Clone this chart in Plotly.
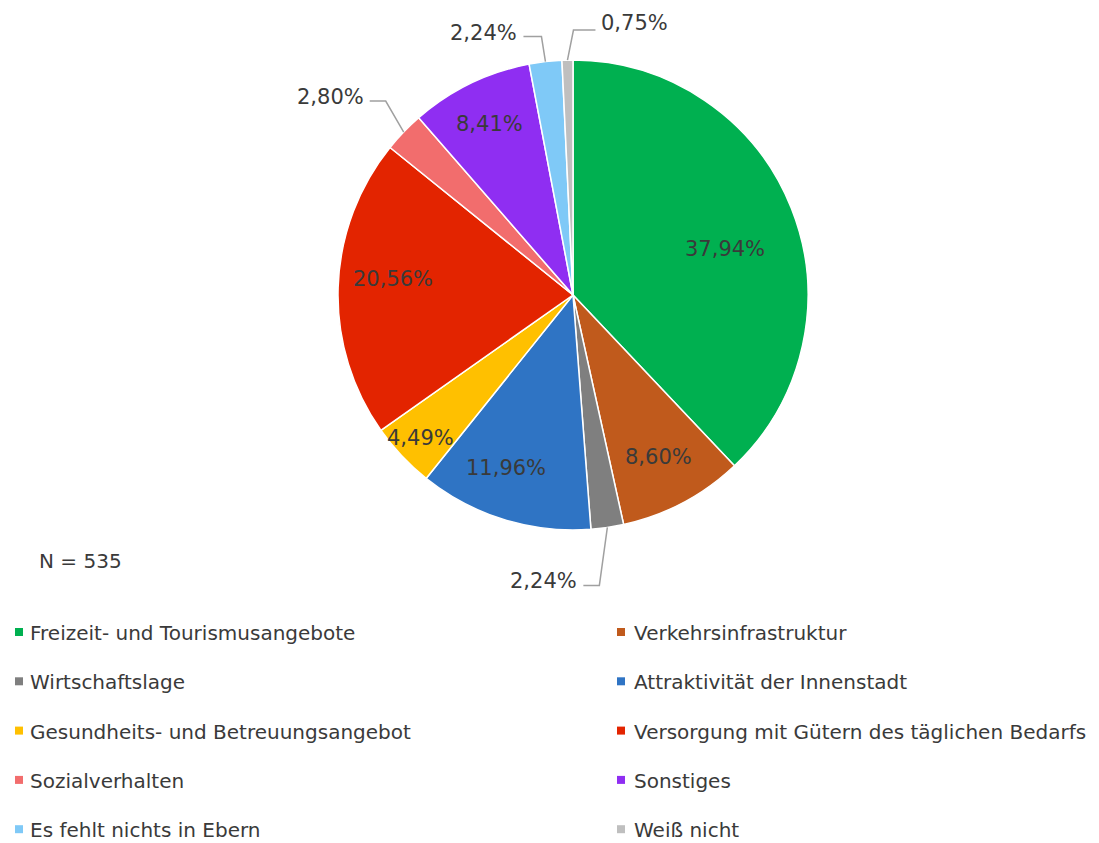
import math
import plotly.graph_objects as go

# ---------------- data ----------------
categories = [
    "Freizeit- und Tourismusangebote",
    "Verkehrsinfrastruktur",
    "Wirtschaftslage",
    "Attraktivität der Innenstadt",
    "Gesundheits- und Betreuungsangebot",
    "Versorgung mit Gütern des täglichen Bedarfs",
    "Sozialverhalten",
    "Sonstiges",
    "Es fehlt nichts in Ebern",
    "Weiß nicht",
]
shares = [37.94, 8.60, 2.24, 11.96, 4.49, 20.56, 2.80, 8.41, 2.24, 0.75]
sample_note = "N = 535"

# ---------------- styles ----------------
colors = ["#00B050", "#C05A1C", "#7F7F7F", "#2F74C4", "#FFC000",
          "#E32400", "#F26D6D", "#8F2EF2", "#7FC9F7", "#BFBFBF"]
FONT = "DejaVu Sans, Liberation Sans, Arial, sans-serif"
TXT = "#3a3a3a"
PAGE_OFF = 8                      # default body margin of the html page
FW, FH = 1099 - PAGE_OFF, 843 - PAGE_OFF
CX, CY, R = 573, 295, 235         # pie centre / radius in page pixels
# inside labels: (radius factor, angular shift in degrees)
inside_pos = {0: (0.675, 5.0), 1: (0.78, 0.0), 3: (0.79, 4.0),
              4: (0.89, 0.0), 5: (0.77, 3.3), 7: (0.81, 0.0)}
# outside labels: elbow offset from slice edge (px), tail length (signed px), text lift
outside_cfg = {2: (-8, 58, -16, 4), 6: (-18, -31, -16, 4),
               8: (-4, -25, -18, 4), 9: (6, -30, 22, 7)}


def fx(x):
    return (x - PAGE_OFF) / FW


def fy(y):
    return 1 - (y - PAGE_OFF) / FH


def fmt(v):
    return f"{v:.2f}".replace(".", ",") + "%"


fig = go.Figure()
fig.add_trace(go.Pie(
    labels=categories,
    values=shares,
    sort=False,
    direction="clockwise",
    rotation=0,
    marker=dict(colors=colors, line=dict(color="white", width=1.5)),
    textinfo="none",
    hoverinfo="label+percent",
    showlegend=False,
    domain=dict(x=[fx(CX - R), fx(CX + R)], y=[fy(CY + R), fy(CY - R)]),
))

annotations = []
shapes = []
total = sum(shares)
cum = 0.0
for i, v in enumerate(shares):
    a = (cum + v / 2) / total * 2 * math.pi
    cum += v
    if i in inside_pos:
        k, shift = inside_pos[i]
        b = a + math.radians(shift)
        r = k * R
        annotations.append(dict(
            x=fx(CX + r * math.sin(b)), y=fy(CY - r * math.cos(b)),
            xref="paper", yref="paper",
            text=fmt(v), showarrow=False,
            font=dict(family=FONT, size=21, color=TXT),
            xanchor="center", yanchor="middle"))
    else:
        dx, dy, tail, lift = outside_cfg[i]
        x0, y0 = CX + R * math.sin(a), CY - R * math.cos(a)
        x1, y1 = x0 + dx, y0 + dy
        x2 = x1 + tail
        side = 1 if tail > 0 else -1
        shapes.append(dict(
            type="path", xref="paper", yref="paper",
            path=f"M {fx(x0)} {fy(y0)} L {fx(x1)} {fy(y1)} L {fx(x2)} {fy(y1)}",
            line=dict(color="#a0a0a0", width=1.5)))
        annotations.append(dict(
            x=fx(x2 + side * 4), y=fy(y1 - lift), xref="paper", yref="paper",
            text=fmt(v), showarrow=False,
            font=dict(family=FONT, size=21, color=TXT),
            xanchor="left" if side > 0 else "right", yanchor="middle"))

# N note
annotations.append(dict(
    x=fx(37), y=fy(561), xref="paper", yref="paper", text=sample_note,
    showarrow=False, font=dict(family=FONT, size=20, color=TXT),
    xanchor="left", yanchor="middle"))

# manual two-column legend
col_marker_x = [19, 621]
col_text_x = [28, 632]
row_y0, row_dy = 633, 49.3
for i, name in enumerate(categories):
    col, row = i % 2, i // 2
    yc = row_y0 + row * row_dy
    mx = col_marker_x[col]
    shapes.append(dict(
        type="rect", xref="paper", yref="paper",
        x0=fx(mx - 4), x1=fx(mx + 4), y0=fy(yc + 3), y1=fy(yc - 5),
        fillcolor=colors[i], line=dict(width=0)))
    annotations.append(dict(
        x=fx(col_text_x[col]), y=fy(yc), xref="paper", yref="paper",
        text=name, showarrow=False,
        font=dict(family=FONT, size=20, color=TXT),
        xanchor="left", yanchor="middle"))

fig.update_layout(
    width=FW, height=FH,
    margin=dict(l=0, r=0, t=0, b=0),
    paper_bgcolor="white", plot_bgcolor="white",
    annotations=annotations, shapes=shapes,
    font=dict(family=FONT),
)

fig.write_html("out.html")
